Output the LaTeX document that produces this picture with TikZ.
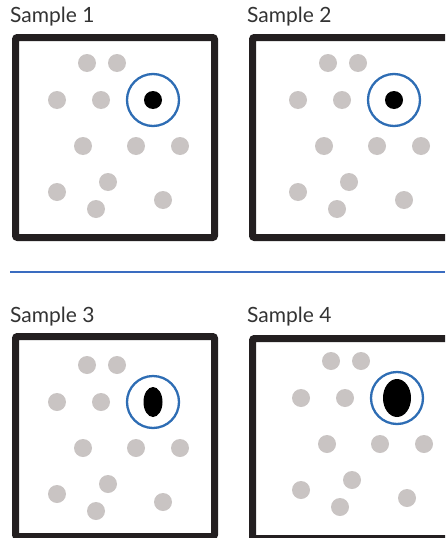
\documentclass[tikz,border=0pt]{standalone}
\usepackage{fontspec}
\setmainfont{Lato}
\usepackage{tikz}
\definecolor{framegrey}{HTML}{231F20}
\definecolor{dotgrey}{HTML}{C9C4C3}
\definecolor{ringblue}{HTML}{2E6DB4}
\definecolor{ruleblue}{HTML}{3A6CC0}

\begin{document}
\begin{tikzpicture}[x=1pt,y=-1pt,
    frame/.style={draw=framegrey,line width=7pt,rounded corners=2pt},
    spot/.style={fill=dotgrey},
    hit/.style={fill=black},
    ring/.style={draw=ringblue,line width=2.3pt},
    divider/.style={draw=ruleblue,line width=1.4pt},
    caption/.style={anchor=base west,inner sep=0pt,text=black!80,font=\fontsize{21}{25}\selectfont}]
  \useasboundingbox (0,0) rectangle (445,538);
  \clip (0,0) rectangle (445,538);
  \foreach \bx/\by/\ly/\sx/\sy/\rx/\ry/\n in {12/34/23/0/0/9/9/1, 249/34/23/241/0/9/9/2,
      12/333/322/0/302/9.5/15/3, 249/335/322/244/298/14/19/4}{
    \node[caption] (label\n) at (\bx-2,\ly) {Sample \n};
    \draw[frame] (\bx+3.5,\by+3.5) rectangle ++(199,200);
    \begin{scope}[shift={(\sx,\sy)}]
      \foreach \px/\py in {87/63,117/63,57/100,101/100,83/146,136/146,180/146,57/192,108/182,163/200,96/209}
        {\fill[spot] (\px,\py) circle (9);}
      \fill[hit] (153,100) ellipse ({\rx} and {\ry});
      \draw[ring] (153,100) circle (26);
    \end{scope}
  }
  \draw[divider] (10,272) -- (445,272);
\end{tikzpicture}
\end{document}
